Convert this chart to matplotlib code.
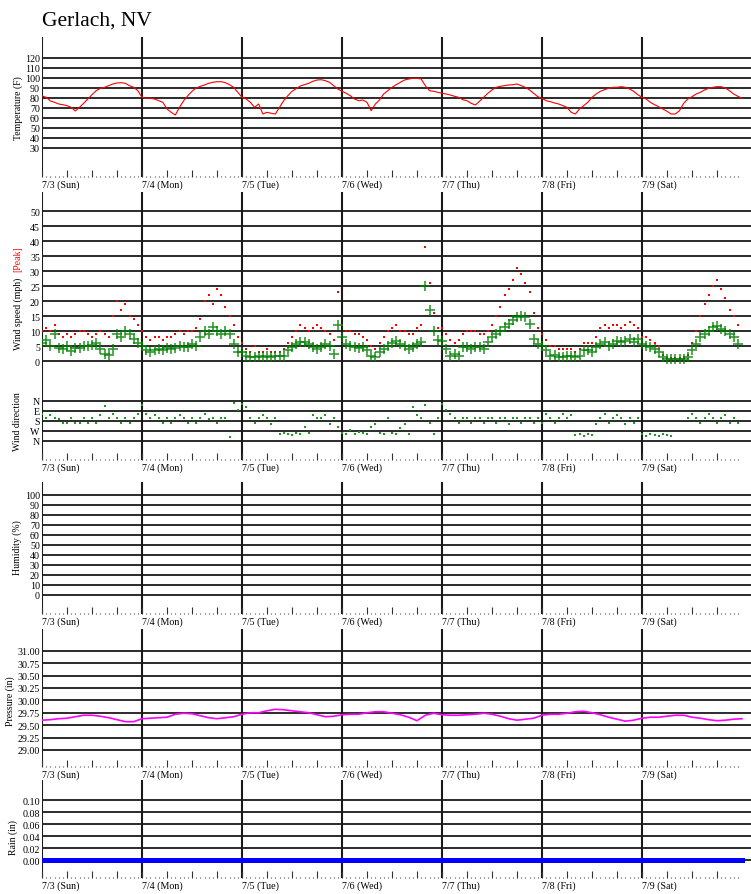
import numpy as np
import matplotlib.pyplot as plt
from matplotlib.ticker import FixedLocator

plt.rcParams['font.family'] = ['Liberation Serif', 'DejaVu Serif']

# ---- data (hourly unless noted) ----
day_labels = ['7/3 (Sun)', '7/4 (Mon)', '7/5 (Tue)', '7/6 (Wed)',
              '7/7 (Thu)', '7/8 (Fri)', '7/9 (Sat)']

temp_f = [
    82, 80.7, 77, 75.7, 74, 73.3, 72.3, 70.7, 67, 70.7, 74.7, 79, 83.3, 87.3, 89.7, 90.7, 92.3, 94, 95, 95.3, 94.7, 92.3, 90.7, 87.3,
    80.7, 79.7, 79.7, 79, 77.3, 75.7, 69, 65.7, 63, 70.7, 77.3, 82.3, 86.7, 90, 91.7, 93, 94.7, 95.7, 96.3, 96.3, 95.3, 93.3, 90.7, 85.7,
    80.7, 79, 75.7, 70.7, 74, 64, 65.7, 64.7, 64, 70.7, 77.3, 82.3, 86.7, 89.3, 92, 93.3, 94.7, 96.7, 98, 98.3, 97.3, 95.7, 92.3, 89,
    86.7, 84.7, 82.3, 79, 77.3, 78, 75.7, 67.3, 74, 78, 84, 87.3, 90.7, 93.3, 95.7, 98, 99, 99.7, 99.7, 99, 92.3, 87.3, 86.7, 85.7,
    84.7, 84, 83, 81.7, 80.7, 78.3, 77.3, 74.7, 73, 76.7, 80.7, 84.7, 88, 90.7, 91.7, 92.3, 93, 93.3, 94, 92.3, 90.7, 88, 84.7, 81.3,
    79.7, 77.3, 76.3, 75, 74, 72.3, 70.7, 65.7, 64, 69, 72.3, 75.7, 80.7, 84, 86.7, 88.3, 89.7, 90.7, 90.7, 91.3, 90.7, 89, 86.7, 83.3,
    80.7, 79, 75.7, 73.3, 71.3, 69, 66.7, 64, 64, 67.3, 74.7, 79, 81.3, 84, 85.7, 88, 89.7, 90.7, 91.3, 91.3, 90, 87.3, 84, 81.7,
    79.7,
]

wind_avg = [
    6, 7, 5, 9, 4.5, 4, 5, 3.5, 4.5, 4.5, 5, 5, 5.5, 6, 4, 2.5, 2, 4, 9, 8, 10, 9, 7.5, 6,
    5.2, 3.6, 3.0, 3.6, 4.1, 3.6, 4.5, 4.1, 4.5, 5.2, 4.7, 4.9, 5.8, 5.2, 8.0, 10.2, 9.1, 11.4, 10.2, 9.1, 10.0, 9.1, 5.8, 3.0,
    3.0, 1.9, 1.4, 1.4, 1.6, 1.4, 1.9, 1.4, 1.6, 1.6, 1.9, 3.6, 4.7, 5.8, 6.3, 6.3, 5.8, 4.7, 4.1, 4.7, 5.8, 5.2, 2.5, 12.0,
    8.0, 5.8, 5.2, 4.7, 4.5, 4.7, 3.6, 1.9, 1.4, 3.0, 4.1, 5.2, 6.0, 6.9, 5.8, 5.2, 4.1, 4.7, 5.8, 6.3, 25.0, 17.0, 10.0, 7.0,
    6.9, 4.1, 1.9, 2.5, 1.9, 4.7, 4.7, 4.1, 4.7, 4.7, 4.1, 6.3, 8.0, 9.1, 10.2, 11.4, 12.5, 13.6, 14.7, 15.2, 14.7, 12.5, 7.5, 5.8,
    5.2, 3.6, 1.9, 2.2, 1.4, 1.4, 1.6, 1.9, 1.4, 1.9, 3.6, 3.8, 3.0, 4.7, 5.8, 6.3, 5.2, 5.8, 6.9, 6.3, 6.9, 7.5, 6.3, 7.5,
    5.8, 5.2, 4.7, 4.1, 3.0, 1.4, 0.8, 0.8, 0.8, 0.8, 0.8, 1.4, 3.6, 5.8, 8.0, 9.1, 10.2, 11.4, 11.9, 10.8, 10.2, 9.1, 8.0, 5.8,
]

wind_peak = [
    10, 11, 10, 12, 9, 8, 9, 8, 9, 10, 10, 9, 8, 9, 10, 9, 8, 15, 20, 17, 19, 15, 14, 12,
    10, 8, 7, 8, 8, 7, 8, 8, 9, 10, 9, 10, 10, 11, 14, 20, 22, 19, 24, 22, 18, 15, 12, 8,
    6, 4, 3, 5, 3, 3, 4, 3, 3, 3, 4, 6, 8, 10, 12, 11, 10, 11, 12, 11, 10, 9, 7, 23,
    12, 10, 10, 9, 9, 8, 7, 5, 4, 6, 8, 10, 11, 12, 10, 10, 9, 9, 11, 12, 38, 26, 16, 11,
    11, 9, 7, 6, 7, 9, 10, 10, 10, 9, 9, 10, 12, 15, 18, 22, 24, 27, 31, 29, 26, 23, 16, 11,
    9, 7, 5, 5, 4, 4, 4, 4, 3, 4, 6, 6, 6, 8, 11, 12, 11, 12, 12, 11, 12, 13, 12, 11,
    8, 8, 7, 6, 5, 2, 1, 1, 1, 1, 1, 2, 6, 10, 15, 19, 22, 25, 27, 24, 21, 17, 15, 12,
]

nan = np.nan
wind_dir = [
    120, 160, 125, 160, 165, 205, 205, 160, 205, 205, 160, 205, 160, 200, 125, 45, 160, 120, 160, 205, 160, 205, 160, 120,
    40, 120, 160, 125, 160, 205, 160, 205, 160, 125, 160, 205, 160, 200, 160, 120, 165, 160, 205, 160, 160, 330, 20, 80,
    30, 60, 160, 205, 160, 125, 160, 210, 160, 300, 290, 300, 310, 290, 300, 240, 290, 125, 160, 160, 125, 210, 160, 240,
    290, 300, 260, 300, 280, 290, 300, 240, 210, 290, 300, 160, 290, 300, 250, 210, 300, 60, 125, 160, 40, 205, 300, 160,
    30, 80, 120, 160, 205, 160, 160, 205, 160, 160, 200, 160, 160, 205, 160, 160, 210, 160, 160, 205, 160, 160, 205, 160,
    205, 120, 160, 205, 160, 120, 160, 125, 310, 300, 320, 300, 310, 210, 160, 120, 205, 160, 125, 160, 210, 160, 205, 160,
    300, 320, 300, 310, 320, 300, 310, 320, nan, nan, nan, 160, 120, 160, 205, 160, 120, 160, 205, 160, 125, 205, 160, 205,
]

# every 2 hours
pressure_in = [
    29.60, 29.61, 29.63, 29.64, 29.67, 29.70, 29.70, 29.68, 29.65, 29.61, 29.57, 29.57,
    29.63, 29.64, 29.65, 29.66, 29.72, 29.74, 29.73, 29.69, 29.65, 29.63, 29.65, 29.67,
    29.72, 29.75, 29.75, 29.79, 29.82, 29.81, 29.79, 29.77, 29.75, 29.71, 29.67, 29.68,
    29.71, 29.72, 29.72, 29.75, 29.77, 29.77, 29.74, 29.71, 29.66, 29.59, 29.70, 29.74,
    29.71, 29.70, 29.70, 29.71, 29.72, 29.74, 29.72, 29.68, 29.63, 29.60, 29.62, 29.64,
    29.70, 29.72, 29.72, 29.74, 29.77, 29.78, 29.75, 29.71, 29.66, 29.62, 29.58, 29.60,
    29.64, 29.66, 29.66, 29.68, 29.70, 29.70, 29.66, 29.64, 29.61, 29.59, 29.60, 29.62,
    29.63,
]

rain_in = [0.0] * 169

t_temp = np.arange(len(temp_f)) / 24
t_wind = np.arange(len(wind_avg)) / 24
t_pres = np.arange(len(pressure_in)) * 2 / 24
t_rain = np.arange(len(rain_in)) / 24

# ---- layout ----
W, H = 751, 895
fig = plt.figure(figsize=(W / 100, H / 100), dpi=100)
LEFT = 42
FS = 7.2


def panel(top, bottom, ylim, yticks, ylabels, xlabels=True):
    ax = fig.add_axes([LEFT / W, 1 - bottom / H, (W - LEFT) / W, (bottom - top) / H])
    ax.set_facecolor('none')
    ax.set_xlim(0, 7.09)
    ax.set_ylim(*ylim)
    for s in ax.spines.values():
        s.set_visible(False)
    for v in yticks:
        ax.axhline(v, color='#1a1a1a', lw=1.3, zorder=1)
    for d in range(7):
        ax.axvline(d, color='#1a1a1a', lw=1.5, zorder=1)
    ax.set_yticks(yticks)
    ax.set_yticklabels(ylabels, fontsize=FS)
    ax.tick_params(axis='y', length=0, pad=1.5)
    if xlabels:
        major = np.arange(0, 7, 0.25)
        ax.xaxis.set_major_locator(FixedLocator(major))
        ax.xaxis.set_minor_locator(FixedLocator(np.arange(0, 7, 1 / 24)))
        ax.set_xticklabels([day_labels[int(m)] if m % 1 == 0 else '' for m in major],
                           fontsize=FS, ha='left')
        ax.tick_params(axis='x', which='major', direction='in', length=4.8,
                       width=0.8, color='#333333', pad=2)
        ax.tick_params(axis='x', which='minor', direction='in', length=0.8,
                       width=0.8, color='#444444')
    else:
        ax.set_xticks([])
    return ax


def ylabel(x, y, text, color='black'):
    fig.text(x / W, 1 - y / H, text, rotation=90, ha='center', va='center',
             fontsize=7, color=color)


fig.text(LEFT / W, 1 - 26 / H, 'Gerlach, NV', fontsize=15.5, va='baseline')

# temperature
ax = panel(38, 178, (1, 141), list(range(30, 121, 10)),
           [str(v) for v in range(30, 121, 10)])
ax.plot(t_temp, temp_f, color='red', lw=0.8, zorder=3)
ylabel(18, 108, 'Temperature (F)')

# wind speed
ax = panel(193, 385, (-7.57, 56.43), list(range(0, 51, 5)),
           [str(v) for v in range(0, 51, 5)], xlabels=False)
ax.plot(t_wind, wind_peak, 's', color='red', ms=1.5, mew=0, zorder=3)
ax.plot(t_wind, wind_avg, '+', color='#008000', ms=7, mew=1.2, alpha=0.8, zorder=4)
ylabel(18, 314, 'Wind speed (mph)')
ylabel(18, 259, '[Peak]', color='red')

# wind direction
ax = panel(385, 461, (533.7, -150.3), [0, 90, 180, 270, 360],
           ['N', 'E', 'S', 'W', 'N'])
ax.plot(t_wind, wind_dir, 's', color='#1f9a1f', ms=1.5, mew=0, zorder=3)
ylabel(18, 422, 'Wind direction')

# humidity (no data)
ax = panel(483, 615, (-19, 112.7), list(range(0, 101, 10)),
           [str(v) for v in range(0, 101, 10)])
ylabel(17, 548, 'Humidity (%)')

# pressure
pt = [29.00, 29.25, 29.50, 29.75, 30.00, 30.25, 30.50, 30.75, 31.00]
ax = panel(630, 768, (28.657, 31.4375), pt, ['%.2f' % v for v in pt])
ax.plot(t_pres, pressure_in, color='#ff00ff', lw=1.2, zorder=3)
ylabel(10, 701, 'Pressure (in)')

# rain
rt = [0.0, 0.02, 0.04, 0.06, 0.08, 0.10]
ax = panel(781, 879, (-0.0298, 0.1343), rt, ['%.2f' % v for v in rt])
ax.plot(t_rain, rain_in, color='#0000ff', lw=3.6, zorder=3)
ylabel(13, 838, 'Rain (in)')

fig.savefig('out.png', dpi=100)
